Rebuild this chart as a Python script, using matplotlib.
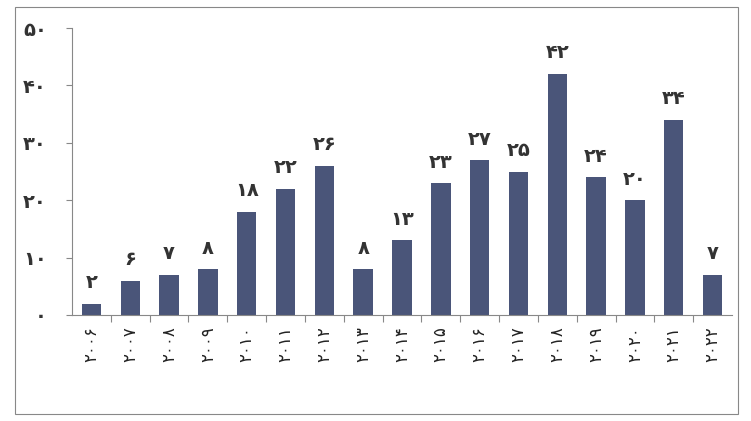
import matplotlib.pyplot as plt
from matplotlib.patches import Rectangle

years = list(range(2006, 2023))
values = [2, 6, 7, 8, 18, 22, 26, 8, 13, 23, 27, 25, 42, 24, 20, 34, 7]

fa = str.maketrans("0123456789", "۰۱۲۳۴۵۶۷۸۹")
def fa_num(n):
    return str(n).translate(fa)

fig = plt.figure(figsize=(7.51, 4.21), dpi=100)
fig.patches.append(Rectangle((15 / 751, 7 / 421), 723 / 751, 407 / 421, transform=fig.transFigure,
                             fill=False, edgecolor="#888888", linewidth=0.8))
ax = fig.add_axes([72 / 751, 106 / 421, 660 / 751, 287 / 421])

x = list(range(len(years)))
ax.bar(x, values, width=0.5, color="#4a5579")
for xi, v in zip(x, values):
    ax.text(xi, v + 2, fa_num(v), ha="center", va="bottom", fontsize=14, fontweight="bold", color="#333333")

ax.set_xlim(-0.5, len(years) - 0.5)
ax.set_ylim(0, 50)
ax.set_yticks(range(0, 51, 10))
ax.set_yticklabels([fa_num(t) for t in range(0, 51, 10)], fontsize=14, fontweight="bold", color="#333333")
ax.set_xticks([i + 0.5 for i in x[:-1]], minor=False)
ax.set_xticklabels([])
ax.set_xticks(x, minor=True)
ax.set_xticklabels([fa_num(y) for y in years], minor=True, rotation=90, fontsize=12, color="#222222")
ax.tick_params(axis="x", which="major", length=5, color="#888888")
ax.tick_params(axis="x", which="minor", length=0, pad=8)
ax.tick_params(axis="y", length=4, color="#888888", pad=14)
for s in ["top", "right"]:
    ax.spines[s].set_visible(False)
for s in ["left", "bottom"]:
    ax.spines[s].set_color("#888888")

fig.savefig("out.png", dpi=100)
